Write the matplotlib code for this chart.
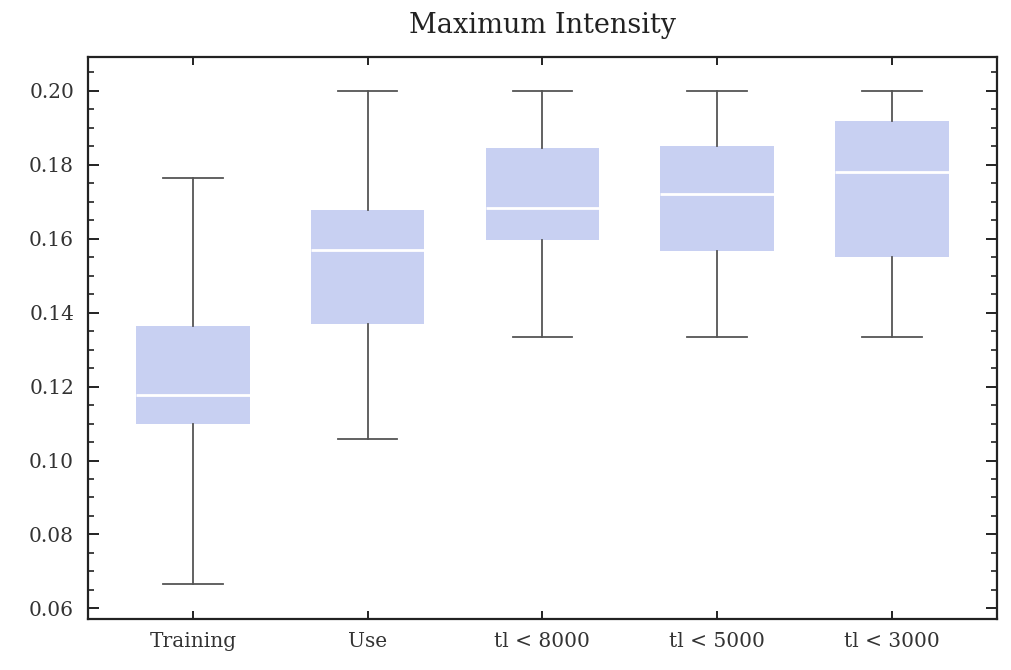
import matplotlib
matplotlib.use("Agg")
import matplotlib.pyplot as plt
from matplotlib.ticker import MultipleLocator, FormatStrFormatter

categories = ["Training", "Use", "tl < 8000", "tl < 5000", "tl < 3000"]
whisker_low = [0.0665, 0.1058, 0.1334, 0.1334, 0.1334]
q1 = [0.1098, 0.1369, 0.1597, 0.1567, 0.1550]
median = [0.1177, 0.1569, 0.1683, 0.1721, 0.1781]
q3 = [0.1364, 0.1678, 0.1846, 0.1851, 0.1919]
whisker_high = [0.1764, 0.2000, 0.2000, 0.2000, 0.2000]

plt.rcParams["font.family"] = ["DejaVu Serif"]

fig = plt.figure(figsize=(10.11, 6.70), dpi=100)
ax = fig.add_axes([0.087, 0.076, 0.899, 0.839])

stats = []
for name, lo, a, m, b, hi in zip(categories, whisker_low, q1, median, q3, whisker_high):
    stats.append(dict(label=name, whislo=lo, q1=a, med=m, q3=b, whishi=hi, fliers=[]))

positions = list(range(1, len(categories) + 1))
ax.bxp(stats, positions=positions, widths=0.65, patch_artist=True, showfliers=False,
       boxprops=dict(facecolor="#c8d0f2", edgecolor="none", linewidth=0),
       medianprops=dict(color="white", linewidth=2),
       whiskerprops=dict(color="#555555", linewidth=1.3),
       capprops=dict(color="#555555", linewidth=1.3),
       capwidths=0.34)

ax.set_xlim(0.4, 5.6)
ax.set_ylim(0.0571, 0.2092)
ax.set_xticks(positions)
ax.set_xticklabels(categories)
ax.yaxis.set_major_locator(MultipleLocator(0.02))
ax.yaxis.set_minor_locator(MultipleLocator(0.005))
ax.yaxis.set_major_formatter(FormatStrFormatter("%.2f"))

ax.tick_params(axis="both", which="both", direction="in", colors="#222222",
               labelcolor="#333333", labelsize=14.5)
ax.tick_params(axis="y", which="major", length=8, width=1.4, left=True, right=True, pad=10)
ax.tick_params(axis="y", which="minor", length=4, width=1.2, left=True, right=True)
ax.tick_params(axis="x", which="major", length=6, width=1.4, top=True, bottom=True, pad=9)
ax.tick_params(axis="x", which="minor", bottom=False, top=False)

for s in ax.spines.values():
    s.set_linewidth(1.6)
    s.set_color("#222222")

ax.set_title("Maximum Intensity", fontsize=19.5, color="#222222", pad=17)

fig.savefig("out.png", dpi=100)
